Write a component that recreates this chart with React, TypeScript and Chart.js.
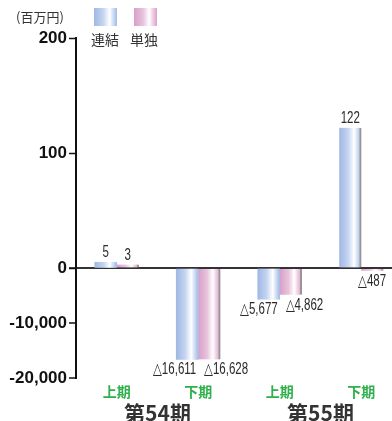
import React, { useEffect, useRef } from 'react';
import { Chart, registerables } from 'chart.js';

Chart.register(...registerables);

// Half-year periods along the x axis and the fiscal terms grouping them
const periods = ['上期', '下期', '上期', '下期'];
const terms = ['第54期', '第55期'];

// Net income (百万円): 連結 / 単独
const consolidated = [5, -16611, -5677, 122];
const standalone = [3, -16628, -4862, -487];

const seriesNames = ['連結', '単独'];

const LATIN = '"Liberation Sans", Arial, sans-serif';
const CJK = '"Noto Sans CJK JP", "Noto Sans CJK SC", sans-serif';
const BAR = 22;

const BLUE_STOPS: [number, string][] = [
  [0, '#9fb8e3'],
  [0.4, '#c4d4f0'],
  [0.68, '#ffffff'],
  [0.86, '#c8d7f2'],
  [1, '#a2bbe5'],
];
const PINK_STOPS: [number, string][] = [
  [0, '#d89fc7'],
  [0.4, '#e8c3dd'],
  [0.66, '#ffffff'],
  [0.84, '#ecc9e2'],
  [1, '#d9a2c9'],
];

const cssGradient = (stops: [number, string][]) =>
  'linear-gradient(to right, ' + stops.map(([p, c]) => `${c} ${p * 100}%`).join(', ') + ')';

// Positive values go on the upper (0–200) axis, negative ones on the lower (0–-20,000) axis
const upperPart = (arr: number[]) => arr.map((v) => (v >= 0 ? v : null));
const lowerPart = (arr: number[]) => arr.map((v) => (v < 0 ? v : null));

function barFill(stops: [number, string][], side: number) {
  return (ctx: any) => {
    const chart = ctx.chart;
    const xs = chart.scales && chart.scales.x;
    if (!xs || typeof ctx.dataIndex !== 'number') return stops[0][1];
    const c = xs.getPixelForValue(ctx.dataIndex);
    if (!Number.isFinite(c)) return stops[0][1];
    const left = side === 0 ? c - BAR : c;
    const g = chart.ctx.createLinearGradient(left, 0, left + BAR, 0);
    stops.forEach(([p, col]) => g.addColorStop(p, col));
    return g;
  };
}

const SHADOW = { top: 0, right: 2, bottom: 0, left: 0 };
const NO_SHADOW = { top: 0, right: 0, bottom: 0, left: 0 };

const valueLabels = {
  id: 'valueLabels',
  afterDatasetsDraw(chart: any) {
    const ctx = chart.ctx;
    chart.data.datasets.forEach((ds: any, di: number) => {
      const meta = chart.getDatasetMeta(di);
      const other = ds.stack === 'a' ? standalone : consolidated;
      meta.data.forEach((bar: any, i: number) => {
        const v = ds.data[i];
        if (v === null || v === undefined) return;
        const { x, y, width } = bar.getProps(['x', 'y', 'width'], true);
        let text: string;
        let align: CanvasTextAlign = 'center';
        let tx = x;
        let ty: number;
        if (v >= 0) {
          text = String(v);
          ty = y - 5;
        } else {
          text = '△' + Math.abs(v).toLocaleString('en-US');
          ty = y + 15;
          if (other[i] < 0) {
            if (ds.stack === 'a') {
              align = 'right';
              tx = x + width / 2 - 2;
            } else {
              align = 'left';
              tx = x - width / 2 + 6;
            }
          }
        }
        ctx.save();
        ctx.font = '16px ' + LATIN;
        ctx.fillStyle = '#2a2a2a';
        ctx.textAlign = align;
        ctx.textBaseline = 'alphabetic';
        ctx.translate(tx, ty);
        ctx.scale(0.72, 1);
        ctx.fillText(text, 0, 0);
        ctx.restore();
      });
    });
  },
};

const yAxisWidth = (s: any) => {
  s.width = 76;
};

export default function App() {
  const canvasRef = useRef<HTMLCanvasElement | null>(null);

  useEffect(() => {
    const canvas = canvasRef.current;
    if (!canvas) return;

    const tickFont = { family: LATIN, size: 17, weight: 'bold' as const };

    const chart = new Chart(canvas, {
      type: 'bar',
      data: {
        labels: periods,
        datasets: [
          {
            label: seriesNames[0],
            data: upperPart(consolidated),
            yAxisID: 'yTop',
            stack: 'a',
            backgroundColor: barFill(BLUE_STOPS, 0),
            borderColor: '#9a9292',
            borderSkipped: false,
            borderWidth: (c: any) => (standalone[c.dataIndex] < 0 ? SHADOW : NO_SHADOW),
          },
          {
            label: seriesNames[0],
            data: lowerPart(consolidated),
            yAxisID: 'yBot',
            stack: 'a',
            backgroundColor: barFill(BLUE_STOPS, 0),
            borderColor: '#9a9292',
            borderSkipped: false,
            borderWidth: (c: any) => (standalone[c.dataIndex] >= 0 ? SHADOW : NO_SHADOW),
          },
          {
            label: seriesNames[1],
            data: upperPart(standalone),
            yAxisID: 'yTop',
            stack: 'b',
            backgroundColor: barFill(PINK_STOPS, 1),
            borderColor: '#9a9292',
            borderSkipped: false,
            borderWidth: SHADOW,
          },
          {
            label: seriesNames[1],
            data: lowerPart(standalone),
            yAxisID: 'yBot',
            stack: 'b',
            backgroundColor: barFill(PINK_STOPS, 1),
            borderColor: '#9a9292',
            borderSkipped: false,
            borderWidth: SHADOW,
          },
        ] as any,
      },
      options: {
        responsive: false,
        animation: false,
        devicePixelRatio: 1,
        layout: { padding: { top: 38, right: 0, bottom: 0, left: 0 } },
        datasets: { bar: { barThickness: BAR } },
        plugins: { legend: { display: false }, tooltip: { enabled: false } },
        scales: {
          x: {
            type: 'category',
            offset: true,
            stacked: true,
            grid: { display: false, drawTicks: false },
            border: { display: false },
            ticks: {
              color: '#2fb04c',
              font: { family: CJK, size: 14, weight: 'bold' },
              padding: 5,
              autoSkip: false,
              maxRotation: 0,
            },
            afterFit: (s: any) => {
              s.height = 22;
            },
          },
          x2: {
            type: 'category',
            labels: terms,
            offset: true,
            position: 'bottom',
            grid: { display: false, drawTicks: false },
            border: { display: false },
            ticks: {
              color: '#333333',
              font: { family: CJK, size: 21, weight: 'bold' },
              padding: 0,
              autoSkip: false,
              maxRotation: 0,
            },
            afterFit: (s: any) => {
              s.height = 21;
            },
          },
          yTop: {
            type: 'linear',
            position: 'left',
            stack: 'v',
            stackWeight: 230,
            weight: 1,
            min: 0,
            max: 200,
            ticks: { stepSize: 100, color: '#111111', font: tickFont, padding: 2 },
            grid: { drawOnChartArea: false, tickLength: 7, tickColor: '#111111', tickWidth: 1.5 },
            border: { display: true, color: '#111111', width: 2 },
            afterFit: yAxisWidth,
          },
          yBot: {
            type: 'linear',
            position: 'left',
            stack: 'v',
            stackWeight: 110,
            weight: 0,
            min: -20000,
            max: 0,
            ticks: {
              stepSize: 10000,
              color: '#111111',
              font: tickFont,
              padding: 2,
              callback: (v: any) => (Number(v) === 0 ? '' : Number(v).toLocaleString('en-US')),
            },
            grid: {
              drawOnChartArea: true,
              color: (c: any) => (c.tick && c.tick.value === 0 ? '#333333' : 'rgba(0,0,0,0)'),
              lineWidth: 2,
              tickLength: 7,
              tickColor: '#111111',
              tickWidth: 1.5,
            },
            border: { display: true, color: '#111111', width: 2 },
            afterFit: yAxisWidth,
          },
        } as any,
      },
      plugins: [valueLabels],
    });

    return () => chart.destroy();
  }, []);

  const text: React.CSSProperties = {
    position: 'absolute',
    fontFamily: CJK,
    color: '#333333',
    lineHeight: 1,
    whiteSpace: 'nowrap',
  };

  return (
    <div
      style={{
        position: 'absolute',
        left: 0,
        top: 0,
        width: 392,
        height: 421,
        overflow: 'hidden',
        background: '#ffffff',
      }}
    >
      <canvas ref={canvasRef} width={402} height={421} style={{ display: 'block' }} />
      <div style={{ ...text, left: 16, top: 10, fontSize: 13 }}>(百万円)</div>
      <div
        style={{ position: 'absolute', left: 94, top: 8, width: 23, height: 18, background: cssGradient(BLUE_STOPS) }}
      />
      <div
        style={{ position: 'absolute', left: 134, top: 8, width: 23, height: 18, background: cssGradient(PINK_STOPS) }}
      />
      <div style={{ ...text, left: 91, top: 32, fontSize: 14 }}>{seriesNames[0]}</div>
      <div style={{ ...text, left: 130, top: 32, fontSize: 14 }}>{seriesNames[1]}</div>
    </div>
  );
}
